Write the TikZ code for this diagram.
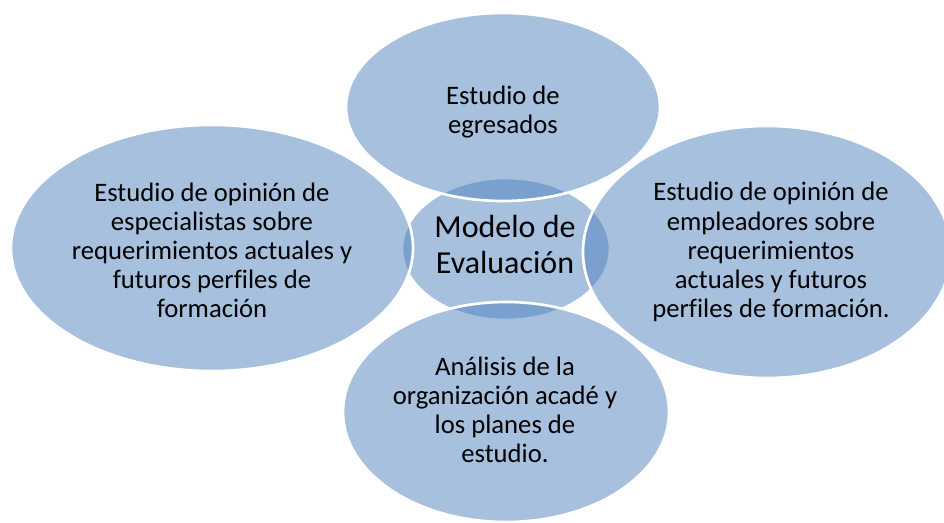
\documentclass[tikz,border=0pt]{standalone}
\usepackage{fontspec}
\setmainfont{Carlito}[Ligatures=NoCommon]
\definecolor{vennblue}{HTML}{4F81BD}
\tikzset{
	venn/.style={fill=vennblue, fill opacity=0.5, draw=white, line width=2pt},
	vennlabel/.style={align=center, text=black, font=\fontsize{20}{21.8}\selectfont},
	hublabel/.style={align=center, text=black, font=\fontsize{24}{27}\selectfont}
}
\begin{document}
\begin{tikzpicture}[x=0.75pt, y=-0.75pt]
			\useasboundingbox (0,0) rectangle (944,523);
			%%%%% START %%%%%
			\draw[venn] (506, 249) ellipse (78pt and 53.25pt);
			
			\draw[venn] (503, 107) ellipse (117.75pt and 70.5pt);
			\draw[venn] (212, 248) ellipse (150.75pt and 92.25pt);
			\draw[venn] (767, 252) ellipse (138pt and 94.5pt);
			\draw[venn] (506, 412) ellipse (122.25pt and 82.5pt);
			
			\node[hublabel] (modelo) at (505, 245) {Modelo de\\Evaluación};
			\node[vennlabel] (egresados) at (503, 112) {Estudio de\\egresados};
			\node[vennlabel] (especialistas) at (212, 250) {Estudio de opinión de\\especialistas sobre\\requerimientos actuales y\\futuros perfiles de\\formación};
			\node[vennlabel] (empleadores) at (771, 252) {Estudio de opinión de\\empleadores sobre\\requerimientos\\actuales y futuros\\perfiles de formación.};
			\node[vennlabel] (analisis) at (505, 410) {Análisis de la\\organización acadé y\\los planes de\\estudio.};
			%%%%% END %%%%%
		\end{tikzpicture}
\end{document}
